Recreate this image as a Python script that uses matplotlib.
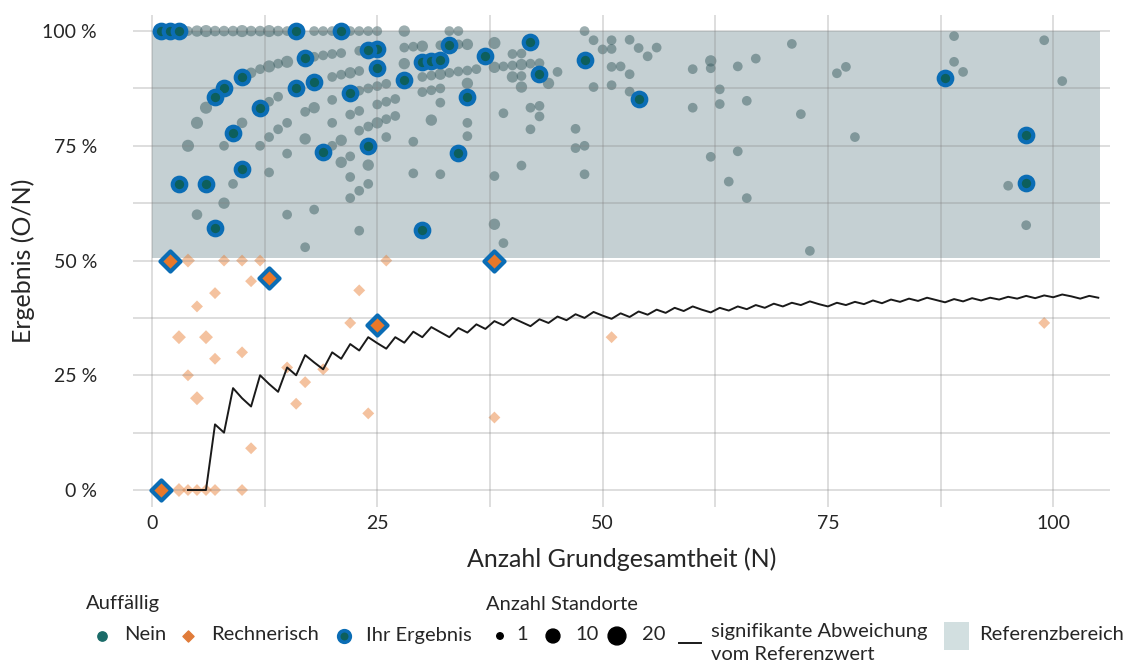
import matplotlib
matplotlib.use("Agg")
import matplotlib.pyplot as plt
from matplotlib.patches import Rectangle
from matplotlib.lines import Line2D

plt.rcParams['font.family'] = ['Lato', 'DejaVu Sans']

# --- data ---
# grey points "Nein": Grundgesamtheit N, Ergebnis in %, Anzahl Standorte
nein_n = [4, 5, 6, 7, 8, 9, 10, 11, 12, 13, 14, 15,
          18, 19, 20, 22, 23, 24, 25, 28, 33, 34, 48,
          4, 5, 6, 11, 12, 13, 14, 15, 18,
          19, 20, 21, 23, 28, 29, 30, 32, 34, 35, 38,
          10, 13, 14, 15, 17, 18,
          20, 21, 22, 23, 28, 30, 31, 32, 33, 34, 35, 36, 38,
          20, 23, 24, 25, 26, 30, 31, 32, 35, 32,
          22, 23, 25, 26, 27,
          20, 24, 25, 26, 27, 31, 35,
          8, 12, 13, 14, 17, 15, 13, 9, 8, 5, 15, 18, 17,
          23, 21, 20, 22, 21, 24, 22, 24, 23, 22, 23, 26, 29, 29, 32, 35,
          38, 38, 39, 39, 42, 43, 43, 42, 47, 47, 48, 48, 41,
          40, 41, 39, 40, 41, 42, 43, 40, 41, 45, 44, 41,
          49, 51, 51, 50, 53, 54, 56, 55,
          51, 52, 53, 51, 49, 53,
          60, 62, 62, 65, 67, 71, 63, 63, 66, 60, 72,
          76, 77, 78, 89, 89, 90, 99, 101, 95, 97,
          62, 65, 64, 66, 73]
nein_pct = [100, 100, 100, 100, 100, 100, 100, 100, 100, 100, 100, 100,
            100, 100, 100, 100, 100, 100, 100, 100, 100, 100, 100,
            75, 80, 83.3, 90.9, 91.7, 92.3, 92.9, 93.3, 94.4,
            94.7, 95, 95.2, 95.7, 96.4, 96.6, 96.7, 96.9, 97.1, 97.1, 97.4,
            80, 84.6, 85.7, 80, 82.4, 83.3,
            90, 90.5, 90.9, 91.3, 92.9, 90, 90.3, 90.6, 90.9, 91.2, 91.4, 91.7, 92.1,
            85, 87, 87.5, 88, 88.5, 86.7, 87.1, 87.5, 88.6, 84.4,
            81.8, 82.6, 84, 84.6, 85.2,
            80, 79.2, 80, 80.8, 81.5, 80.6, 80,
            75, 75, 76.9, 78.6, 76.5, 73.3, 69.2, 66.7, 62.5, 60, 60, 61.1, 52.9,
            78.3, 76.2, 75, 72.7, 71.4, 70.8, 68.2, 66.7, 65.2, 63.6, 56.5, 76.9, 75.9, 69, 68.8, 77.1,
            68.4, 57.9, 53.8, 82.1, 83.3, 83.7, 81.4, 78.6, 78.7, 74.5, 75, 68.8, 70.7,
            95, 95.1, 92.3, 92.5, 92.7, 92.9, 93, 90, 90.2, 91.1, 88.6, 87.8,
            98, 98, 96.1, 96, 98.1, 96.3, 96.4, 94.5,
            92.2, 92.3, 90.6, 88.2, 87.8, 86.8,
            91.7, 93.5, 91.9, 92.3, 94, 97.2, 87.3, 84.1, 84.8, 83.3, 81.9,
            90.8, 92.2, 76.9, 98.9, 93.3, 91.1, 98, 89.1, 66.3, 57.7,
            72.6, 73.8, 67.2, 63.6, 52.1]
nein_cnt = [3, 5, 6, 4, 4, 4, 6, 4, 4, 6, 4, 3,
            3, 3, 3, 3, 3, 3, 3, 5, 3, 3, 3,
            6, 6, 6, 4, 3, 6, 3, 6, 3,
            3, 3, 3, 3, 3, 3, 5, 3, 3, 5, 6,
            4, 3, 3, 3, 3, 5,
            3, 3, 5, 3, 5, 3, 3, 5, 3, 3, 3, 3, 5,
            3, 3, 3, 3, 3, 3, 3, 3, 5, 3,
            3, 3, 3, 3, 3,
            3, 3, 5, 3, 3, 5, 3,
            3, 3, 3, 3, 5, 3, 3, 3, 5, 4, 3, 3, 3,
            3, 5, 3, 3, 5, 5, 3, 3, 3, 3, 3, 3, 3, 3, 3, 3,
            3, 5, 3, 3, 3, 3, 3, 3, 3, 3, 3, 3, 3,
            3, 3, 3, 3, 5, 3, 3, 5, 3, 3, 5, 5,
            3, 3, 3, 3, 3, 3, 3, 3,
            3, 3, 3, 3, 3, 3,
            3, 5, 3, 3, 3, 3, 3, 3, 3, 3, 3,
            3, 3, 3, 3, 3, 3, 3, 3, 3, 3,
            3, 3, 3, 3, 3]

# orange diamonds "Rechnerisch"
rech_n = [4, 8, 10, 12, 26, 11, 23, 7, 5, 22, 3, 6, 7, 10, 4, 15, 17, 19, 16, 5,
          24, 38, 11, 3, 4, 5, 6, 7, 10, 51, 99]
rech_pct = [50, 50, 50, 50, 50, 45.5, 43.5, 42.9, 40, 36.4, 33.3, 33.3, 28.6, 30, 25,
            26.7, 23.5, 26.3, 18.8, 20, 16.7, 15.8, 9.1, 0, 0, 0, 0, 0, 0, 33.3, 36.4]
rech_cnt = [5, 3, 3, 3, 3, 3, 3, 3, 3, 3, 5, 5, 3, 3, 3, 3, 3, 3, 3, 5,
            3, 3, 3, 5, 3, 3, 3, 3, 3, 3, 3]

# "Ihr Ergebnis" points
ihr_n = [1, 2, 3, 16, 21, 17, 16, 10, 8, 7, 12, 18, 9,
         25, 24, 25, 33, 30, 31, 32, 37, 28, 22, 35,
         3, 6, 10, 7, 19, 24, 34, 30,
         42, 48, 43, 54, 88, 97, 97]
ihr_pct = [100, 100, 100, 100, 100, 94.1, 87.5, 90, 87.5, 85.7, 83.3, 88.9, 77.8,
           96, 95.8, 92, 97, 93.3, 93.5, 93.8, 94.6, 89.3, 86.4, 85.7,
           66.7, 66.7, 70, 57.1, 73.7, 75, 73.5, 56.7,
           97.6, 93.8, 90.7, 85.2, 89.8, 77.3, 67]
ihr_rech_n = [2, 13, 25, 38, 1]
ihr_rech_pct = [50, 46.2, 36, 50, 0]

# significance line (signifikante Abweichung vom Referenzwert)
line_n = list(range(4, 106))
line_pct = [0, 0, 0, 14.3, 12.5, 22.2, 20.0, 18.2, 25.0, 23.1, 21.4, 26.7, 25.0, 29.4,
            27.8, 26.3, 30.0, 28.6, 31.8, 30.4, 33.3, 32.0, 30.8, 33.3, 32.1, 34.5, 33.3,
            35.5, 34.4, 33.3, 35.3, 34.3, 36.1, 35.1, 36.8, 35.9, 37.5, 36.6, 35.7, 37.2,
            36.4, 37.8, 37.0, 38.3, 37.5, 38.8, 38.0, 37.3, 38.5, 37.7, 38.9, 38.2, 39.3,
            38.6, 39.7, 39.0, 40.0, 39.3, 38.7, 39.7, 39.1, 40.0, 39.4, 40.3, 39.7, 40.6,
            40.0, 40.8, 40.3, 41.1, 40.5, 40.0, 40.8, 40.3, 41.0, 40.5, 41.3, 40.7, 41.5,
            41.0, 41.7, 41.2, 41.9, 41.4, 40.9, 41.6, 41.1, 41.8, 41.3, 41.9, 41.5, 42.1,
            41.7, 42.3, 41.8, 42.4, 42.0, 42.6, 42.2, 41.7, 42.3, 41.9]

ref_lo, ref_hi = 50.5, 100
ref_x0, ref_x1 = 0, 105.2

ticks = [0, 25, 50, 75, 100]
tick_labels = ['0 %', '25 %', '50 %', '75 %', '100 %']

# --- colours ---
c_band = '#c5d0d3'
c_grey = '#3d5f63'
c_teal = '#0d5f5c'
c_blue = '#0b6db5'
c_orange = '#e8782a'
c_text = '#262626'


def size(c):
    return 22 + 9 * c


fig = plt.figure(figsize=(11.33, 6.67), dpi=100)
ax = fig.add_axes([133 / 1133, 1 - 507 / 667, (1110 - 133) / 1133, (507 - 15) / 667])
ax.set_xlim(-2.1, 106.3)
ax.set_ylim(-3.7, 103.5)

ax.add_patch(Rectangle((ref_x0, ref_lo), ref_x1 - ref_x0, ref_hi - ref_lo,
                       facecolor=c_band, edgecolor='none', zorder=0))

ax.set_xticks(ticks)
ax.set_yticks(ticks)
ax.set_yticklabels(tick_labels)
ax.set_xticks([12.5, 37.5, 62.5, 87.5], minor=True)
ax.set_yticks([12.5, 37.5, 62.5, 87.5], minor=True)
ax.grid(True, which='both', color='#808080', alpha=0.33, linewidth=1.1, zorder=1)
ax.set_axisbelow(False)
ax.tick_params(which='both', length=0)
ax.tick_params(axis='y', pad=26, labelsize=14, colors=c_text)
ax.tick_params(axis='x', pad=6, labelsize=14, colors=c_text)
for sp in ax.spines.values():
    sp.set_visible(False)

ax.scatter(nein_n, nein_pct, s=[size(c) for c in nein_cnt], color=c_grey, alpha=0.5,
           linewidths=0, zorder=2)
ax.scatter(rech_n, rech_pct, s=[size(c) * 0.75 for c in rech_cnt], marker='D', color=c_orange,
           alpha=0.45, linewidths=0, zorder=2)
ax.plot(line_n, line_pct, color='#1a1a1a', linewidth=1.4, zorder=3)
ax.scatter(ihr_n, ihr_pct, s=95, color=c_teal, edgecolors=c_blue, linewidths=3, zorder=4)
ax.scatter(ihr_rech_n, ihr_rech_pct, s=105, marker='D', color=c_orange, edgecolors=c_blue,
           linewidths=3, zorder=4)

ax.set_xlabel('Anzahl Grundgesamtheit (N)', fontsize=18, color=c_text, labelpad=11)
ax.set_ylabel('Ergebnis (O/N)', fontsize=18, color=c_text, labelpad=5)

# --- legend drawn in pixel coordinates ---
lx = fig.add_axes([0, 0, 1, 1])
lx.set_xlim(0, 1133)
lx.set_ylim(667, 0)
lx.axis('off')
lx.patch.set_alpha(0)
tk = dict(fontsize=14.5, color=c_text, va='center')
lx.text(86, 604, 'Auffällig', **tk)
lx.text(486, 604, 'Anzahl Standorte', **tk)
lx.scatter([102], [636], s=45, color='#1a6b68')
lx.text(124, 635, 'Nein', **tk)
lx.scatter([188], [636], s=32, marker='D', color='#e07b39')
lx.text(211, 635, 'Rechnerisch', **tk)
lx.scatter([344], [636], s=70, color=c_teal, edgecolors=c_blue, linewidths=2.6)
lx.text(366, 635, 'Ihr Ergebnis', **tk)
lx.scatter([500, 553, 617], [636, 636, 636], s=[22, 100, 165], color='black')
lx.text(516, 635, '1', **tk)
lx.text(575, 635, '10', **tk)
lx.text(642, 635, '20', **tk)
lx.add_line(Line2D([679, 701], [643, 643], color='#1a1a1a', linewidth=1.4))
lx.text(711, 632, 'signifikante Abweichung', **tk)
lx.text(711, 655, 'vom Referenzwert', **tk)
lx.add_patch(Rectangle((944, 622), 25, 28, facecolor='#d2dfe0', edgecolor='none'))
lx.text(979, 635, 'Referenzbereich', **tk)

fig.savefig('out.png', dpi=100)
